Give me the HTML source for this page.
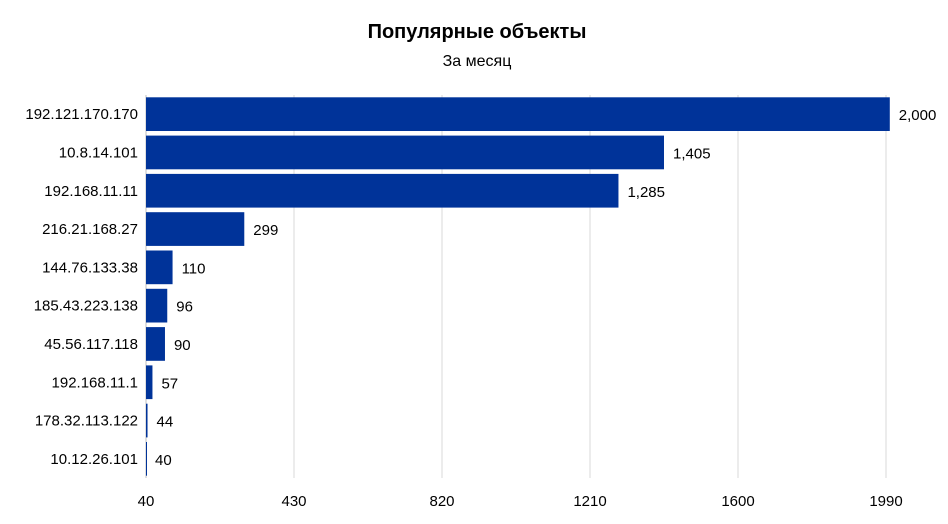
<!DOCTYPE html>
<html><head><meta charset="utf-8"><style>
body{margin:0;background:#fff;}
svg{display:block;font-family:"Liberation Sans",sans-serif;}
</style></head><body>
<svg id="chart" width="948" height="524">
<text x="477" y="38" text-anchor="middle" font-size="20" font-weight="bold" fill="#000">Популярные объекты</text>
<text x="477" y="66" text-anchor="middle" font-size="16" fill="#000">За месяц</text>
<g id="grid"></g><g id="bars"></g><g id="labels"></g>
</svg>
<script>
const categories=["192.121.170.170","10.8.14.101","192.168.11.11","216.21.168.27","144.76.133.38","185.43.223.138","45.56.117.118","192.168.11.1","178.32.113.122","10.12.26.101"];
const values=[2000,1405,1285,299,110,96,90,57,44,40];
const valueLabels=["2,000","1,405","1,285","299","110","96","90","57","44","40"];
const ticks=[40,430,820,1210,1600,1990];
const NS="http://www.w3.org/2000/svg";
const x0=146,x1=886,xmin=40,xmax=1990,plotTop=95,plotBottom=478;
const band=(plotBottom-plotTop)/categories.length;
function xs(v){return x0+(v-xmin)*(x1-x0)/(xmax-xmin);}
function yc(i){return plotTop+band*i+band/2;}
function mk(t,a,p){const e=document.createElementNS(NS,t);for(const k in a)e.setAttribute(k,a[k]);p.appendChild(e);return e;}
const g=document.getElementById('grid'),b=document.getElementById('bars'),l=document.getElementById('labels');
ticks.forEach((t,i)=>{
 const ln=mk('line',{x1:xs(t),x2:xs(t),y1:plotTop,y2:plotBottom,stroke:i==0?'#bfbfbf':'#d9d9d9','stroke-width':1},g);
 
 
 const tx=mk('text',{x:xs(t),y:506,'text-anchor':'middle','font-size':15,fill:'#000'},l);
 tx.textContent=t;
 
 
});
categories.forEach((c,i)=>{
 const h=band*0.88;
 const r=mk('rect',{x:x0,y:yc(i)-h/2,width:Math.max(1,xs(values[i])-x0),height:h,fill:'#003399'},b);
 
 
 const ct=mk('text',{x:138,y:yc(i)+5,'text-anchor':'end','font-size':15,fill:'#000'},l);
 ct.textContent=c;
 
 
 const vt=mk('text',{x:xs(values[i])+9,y:yc(i)+6,'font-size':15,fill:'#000'},l);
 vt.textContent=valueLabels[i];
 
 
});
</script>
</body></html>
